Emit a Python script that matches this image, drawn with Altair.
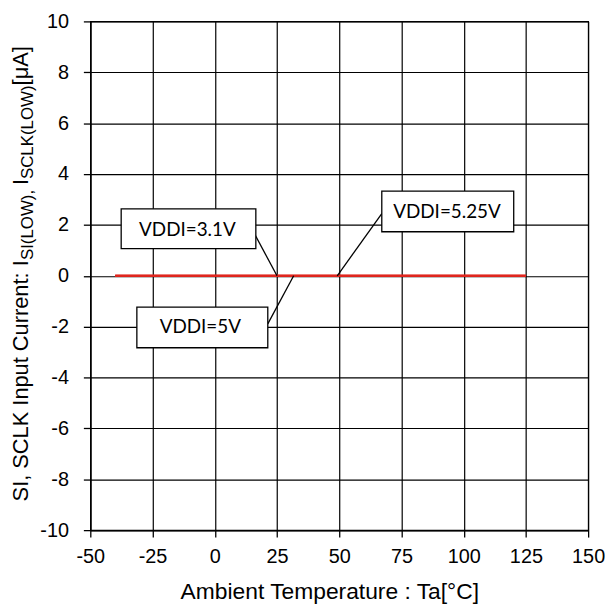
import altair as alt
import pandas as pd

# ---- data ----
temps = [-40, 25, 85, 125]
i_vddi_31 = [0.0, 0.0, 0.0, 0.0]
i_vddi_50 = [0.0, 0.0, 0.0, 0.0]
i_vddi_525 = [0.0, 0.0, 0.0, 0.0]

x_ticks = [-50, -25, 0, 25, 50, 75, 100, 125, 150]
y_ticks = [-10, -8, -6, -4, -2, 0, 2, 4, 6, 8, 10]

label_text = ["VDDI=3.1V", "VDDI=5V", "VDDI=5.25V"]
label_x = [-11.0, -5.8, 93.3]
label_y = [1.81, -2.0, 2.49]
box_x1 = [-37.6, -31.3, 67.1]
box_x2 = [16.5, 21.3, 120.1]
box_y1 = [1.07, -2.83, 1.73]
box_y2 = [2.63, -1.23, 3.33]
lead_x1 = [15.3, 21.3, 67.1]
lead_y1 = [1.77, -1.89, 2.44]
lead_x2 = [25.0, 31.7, 49.2]
lead_y2 = [0.0, 0.0, 0.0]

x_title = "Ambient Temperature : Ta[°C]"
y_title_parts = ["SI, SCLK Input Current: I", "SI(LOW), ", "I", "SCLK(LOW)", " [μA]"]
y_title_sub = [False, True, False, True, False]

RED = "#e0261e"

# ---- tables ----
line_df = pd.DataFrame({
    "temp": temps * 3,
    "current": i_vddi_31 + i_vddi_50 + i_vddi_525,
    "series": ["3.1V"] * len(temps) + ["5V"] * len(temps) + ["5.25V"] * len(temps),
})
ann_df = pd.DataFrame({
    "label": label_text, "lx": label_x, "ly": label_y,
    "bx1": box_x1, "bx2": box_x2, "by1": box_y1, "by2": box_y2,
    "sx1": lead_x1, "sy1": lead_y1, "sx2": lead_x2, "sy2": lead_y2,
})

xs = alt.Scale(domain=[-50, 150], nice=False, zero=False)
ys = alt.Scale(domain=[-10, 10], nice=False, zero=False)

common_axis = dict(
    grid=True, gridColor="black", gridWidth=1.2, gridOpacity=1,
    domainColor="black", domainWidth=1.5,
    tickColor="black", tickSize=7, tickWidth=1.3,
    labelFont="Liberation Sans", labelFontSize=20, labelColor="black",
    labelExpr="'' + datum.value", labelFlush=False, labelOverlap=False,
    titleFont="Liberation Sans", titleFontSize=23, titleFontWeight="normal",
    titleColor="black",
)
axis_x = alt.Axis(values=x_ticks, title=x_title, labelPadding=10,
                  titleX=241, titleY=69, titleBaseline="alphabetic",
                  titleAlign="center", **common_axis)
axis_y = alt.Axis(values=y_ticks, title="", labelPadding=15, **common_axis)


def X(field):
    return alt.X(field, type="quantitative", scale=xs, axis=axis_x)


def Y(field):
    return alt.Y(field, type="quantitative", scale=ys, axis=axis_y)


lines = alt.Chart(line_df).mark_line(color=RED, strokeWidth=2).encode(
    x=X("temp"), y=Y("current"), detail="series:N"
)

leaders = alt.Chart(ann_df).mark_rule(color="black", strokeWidth=1.3).encode(
    x=X("sx1"), y=Y("sy1"), x2="sx2", y2="sy2"
)

boxes = alt.Chart(ann_df).mark_rect(fill="white", stroke="black", strokeWidth=1.3).encode(
    x=X("bx1"), x2="bx2", y=Y("by1"), y2="by2"
)

texts = alt.Chart(ann_df).mark_text(font="Lato", fontSize=19, color="black").encode(
    x=X("lx"), y=Y("ly"), text="label:N"
)

# ---- composite y-axis title (with subscripts) ----
W = {"S": 667, "I": 278, ",": 278, " ": 278, "C": 722, "L": 556, "K": 667,
     "n": 556, "p": 556, "u": 556, "t": 278, "r": 333, "e": 556, ":": 278,
     "(": 333, "O": 778, "W": 944, ")": 333, "[": 278, "μ": 576, "A": 667,
     "]": 278}


def text_width(s, size):
    return sum(W.get(c, 556) for c in s) / 1000.0 * size


BIG, SMALL = 22, 17
title_layers = []
ypos = 484.0
for part, sub in zip(y_title_parts, y_title_sub):
    size = SMALL if sub else BIG
    title_layers.append(
        alt.Chart(pd.DataFrame({"t": [part]})).mark_text(
            angle=270, align="left", baseline="alphabetic",
            font="Liberation Sans", fontSize=size, color="black"
        ).encode(
            x=alt.value(-63 + (5 if sub else 0)),
            y=alt.value(ypos),
            text="t:N",
        )
    )
    ypos -= text_width(part, size)

chart = alt.layer(lines, leaders, boxes, texts, *title_layers).properties(
    width=502, height=513,
    autosize=alt.AutoSizeParams(type="none"),
    padding={"left": 83, "top": 11, "right": 17, "bottom": 76},
    background="white",
).configure_view(stroke="black", strokeWidth=1.2)

chart.save("out.html", embed_options={"renderer": "svg", "actions": False})
